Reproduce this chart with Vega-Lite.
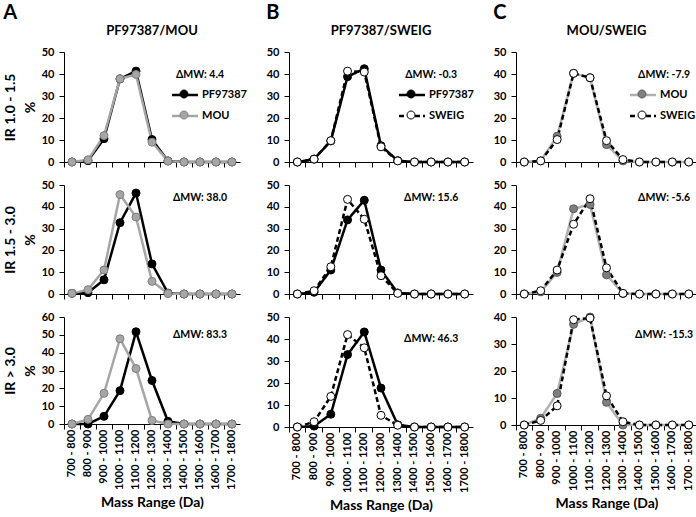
{
"$schema":"https://vega.github.io/schema/vega-lite/v6.json",
"padding":{"left":3,"top":3,"right":0,"bottom":0},
"background":"white",
"datasets":{
"d":[
{"p":"A1","s":"PF97387","r":"700 - 800","v":0},{"p":"A1","s":"PF97387","r":"800 - 900","v":0.6},{"p":"A1","s":"PF97387","r":"900 - 1000","v":10.6},{"p":"A1","s":"PF97387","r":"1000 - 1100","v":37.8},{"p":"A1","s":"PF97387","r":"1100 - 1200","v":41.3},{"p":"A1","s":"PF97387","r":"1200 - 1300","v":10.2},{"p":"A1","s":"PF97387","r":"1300 - 1400","v":0.5},{"p":"A1","s":"PF97387","r":"1400 - 1500","v":0},{"p":"A1","s":"PF97387","r":"1500 - 1600","v":0},{"p":"A1","s":"PF97387","r":"1600 - 1700","v":0},{"p":"A1","s":"PF97387","r":"1700 - 1800","v":0},
{"p":"A1","s":"MOU","r":"700 - 800","v":0},{"p":"A1","s":"MOU","r":"800 - 900","v":1.0},{"p":"A1","s":"MOU","r":"900 - 1000","v":12.0},{"p":"A1","s":"MOU","r":"1000 - 1100","v":37.8},{"p":"A1","s":"MOU","r":"1100 - 1200","v":39.8},{"p":"A1","s":"MOU","r":"1200 - 1300","v":9.0},{"p":"A1","s":"MOU","r":"1300 - 1400","v":0.4},{"p":"A1","s":"MOU","r":"1400 - 1500","v":0},{"p":"A1","s":"MOU","r":"1500 - 1600","v":0},{"p":"A1","s":"MOU","r":"1600 - 1700","v":0},{"p":"A1","s":"MOU","r":"1700 - 1800","v":0},
{"p":"A2","s":"PF97387","r":"700 - 800","v":0.3},{"p":"A2","s":"PF97387","r":"800 - 900","v":0.6},{"p":"A2","s":"PF97387","r":"900 - 1000","v":6.5},{"p":"A2","s":"PF97387","r":"1000 - 1100","v":32.7},{"p":"A2","s":"PF97387","r":"1100 - 1200","v":46.3},{"p":"A2","s":"PF97387","r":"1200 - 1300","v":13.8},{"p":"A2","s":"PF97387","r":"1300 - 1400","v":0.4},{"p":"A2","s":"PF97387","r":"1400 - 1500","v":0},{"p":"A2","s":"PF97387","r":"1500 - 1600","v":0},{"p":"A2","s":"PF97387","r":"1600 - 1700","v":0},{"p":"A2","s":"PF97387","r":"1700 - 1800","v":0},
{"p":"A2","s":"MOU","r":"700 - 800","v":0.3},{"p":"A2","s":"MOU","r":"800 - 900","v":2.0},{"p":"A2","s":"MOU","r":"900 - 1000","v":11.0},{"p":"A2","s":"MOU","r":"1000 - 1100","v":45.6},{"p":"A2","s":"MOU","r":"1100 - 1200","v":35.3},{"p":"A2","s":"MOU","r":"1200 - 1300","v":5.8},{"p":"A2","s":"MOU","r":"1300 - 1400","v":0.2},{"p":"A2","s":"MOU","r":"1400 - 1500","v":0},{"p":"A2","s":"MOU","r":"1500 - 1600","v":0},{"p":"A2","s":"MOU","r":"1600 - 1700","v":0},{"p":"A2","s":"MOU","r":"1700 - 1800","v":0},
{"p":"A3","s":"PF97387","r":"700 - 800","v":0},{"p":"A3","s":"PF97387","r":"800 - 900","v":0},{"p":"A3","s":"PF97387","r":"900 - 1000","v":4.3},{"p":"A3","s":"PF97387","r":"1000 - 1100","v":18.7},{"p":"A3","s":"PF97387","r":"1100 - 1200","v":51.7},{"p":"A3","s":"PF97387","r":"1200 - 1300","v":24.4},{"p":"A3","s":"PF97387","r":"1300 - 1400","v":1.5},{"p":"A3","s":"PF97387","r":"1400 - 1500","v":0},{"p":"A3","s":"PF97387","r":"1500 - 1600","v":0},{"p":"A3","s":"PF97387","r":"1600 - 1700","v":0},{"p":"A3","s":"PF97387","r":"1700 - 1800","v":0},
{"p":"A3","s":"MOU","r":"700 - 800","v":0},{"p":"A3","s":"MOU","r":"800 - 900","v":2.6},{"p":"A3","s":"MOU","r":"900 - 1000","v":17.2},{"p":"A3","s":"MOU","r":"1000 - 1100","v":47.8},{"p":"A3","s":"MOU","r":"1100 - 1200","v":31.1},{"p":"A3","s":"MOU","r":"1200 - 1300","v":2.0},{"p":"A3","s":"MOU","r":"1300 - 1400","v":0},{"p":"A3","s":"MOU","r":"1400 - 1500","v":0},{"p":"A3","s":"MOU","r":"1500 - 1600","v":0},{"p":"A3","s":"MOU","r":"1600 - 1700","v":0},{"p":"A3","s":"MOU","r":"1700 - 1800","v":0},
{"p":"B1","s":"PF97387","r":"700 - 800","v":0},{"p":"B1","s":"PF97387","r":"800 - 900","v":1.3},{"p":"B1","s":"PF97387","r":"900 - 1000","v":9.6},{"p":"B1","s":"PF97387","r":"1000 - 1100","v":38.8},{"p":"B1","s":"PF97387","r":"1100 - 1200","v":42.4},{"p":"B1","s":"PF97387","r":"1200 - 1300","v":7.4},{"p":"B1","s":"PF97387","r":"1300 - 1400","v":0.6},{"p":"B1","s":"PF97387","r":"1400 - 1500","v":0},{"p":"B1","s":"PF97387","r":"1500 - 1600","v":0},{"p":"B1","s":"PF97387","r":"1600 - 1700","v":0},{"p":"B1","s":"PF97387","r":"1700 - 1800","v":0},
{"p":"B1","s":"SWEIG","r":"700 - 800","v":0},{"p":"B1","s":"SWEIG","r":"800 - 900","v":1.3},{"p":"B1","s":"SWEIG","r":"900 - 1000","v":9.7},{"p":"B1","s":"SWEIG","r":"1000 - 1100","v":41.3},{"p":"B1","s":"SWEIG","r":"1100 - 1200","v":40.9},{"p":"B1","s":"SWEIG","r":"1200 - 1300","v":6.9},{"p":"B1","s":"SWEIG","r":"1300 - 1400","v":0.5},{"p":"B1","s":"SWEIG","r":"1400 - 1500","v":0},{"p":"B1","s":"SWEIG","r":"1500 - 1600","v":0},{"p":"B1","s":"SWEIG","r":"1600 - 1700","v":0},{"p":"B1","s":"SWEIG","r":"1700 - 1800","v":0},
{"p":"B2","s":"PF97387","r":"700 - 800","v":0},{"p":"B2","s":"PF97387","r":"800 - 900","v":0.8},{"p":"B2","s":"PF97387","r":"900 - 1000","v":11.0},{"p":"B2","s":"PF97387","r":"1000 - 1100","v":34.0},{"p":"B2","s":"PF97387","r":"1100 - 1200","v":43.0},{"p":"B2","s":"PF97387","r":"1200 - 1300","v":11.0},{"p":"B2","s":"PF97387","r":"1300 - 1400","v":0.5},{"p":"B2","s":"PF97387","r":"1400 - 1500","v":0},{"p":"B2","s":"PF97387","r":"1500 - 1600","v":0},{"p":"B2","s":"PF97387","r":"1600 - 1700","v":0},{"p":"B2","s":"PF97387","r":"1700 - 1800","v":0},
{"p":"B2","s":"SWEIG","r":"700 - 800","v":0},{"p":"B2","s":"SWEIG","r":"800 - 900","v":1.5},{"p":"B2","s":"SWEIG","r":"900 - 1000","v":12.5},{"p":"B2","s":"SWEIG","r":"1000 - 1100","v":43.4},{"p":"B2","s":"SWEIG","r":"1100 - 1200","v":34.3},{"p":"B2","s":"SWEIG","r":"1200 - 1300","v":8.4},{"p":"B2","s":"SWEIG","r":"1300 - 1400","v":0.3},{"p":"B2","s":"SWEIG","r":"1400 - 1500","v":0},{"p":"B2","s":"SWEIG","r":"1500 - 1600","v":0},{"p":"B2","s":"SWEIG","r":"1600 - 1700","v":0},{"p":"B2","s":"SWEIG","r":"1700 - 1800","v":0},
{"p":"B3","s":"PF97387","r":"700 - 800","v":0},{"p":"B3","s":"PF97387","r":"800 - 900","v":0.4},{"p":"B3","s":"PF97387","r":"900 - 1000","v":5.8},{"p":"B3","s":"PF97387","r":"1000 - 1100","v":32.9},{"p":"B3","s":"PF97387","r":"1100 - 1200","v":43.2},{"p":"B3","s":"PF97387","r":"1200 - 1300","v":17.7},{"p":"B3","s":"PF97387","r":"1300 - 1400","v":1.0},{"p":"B3","s":"PF97387","r":"1400 - 1500","v":0},{"p":"B3","s":"PF97387","r":"1500 - 1600","v":0},{"p":"B3","s":"PF97387","r":"1600 - 1700","v":0},{"p":"B3","s":"PF97387","r":"1700 - 1800","v":0},
{"p":"B3","s":"SWEIG","r":"700 - 800","v":0},{"p":"B3","s":"SWEIG","r":"800 - 900","v":2.4},{"p":"B3","s":"SWEIG","r":"900 - 1000","v":13.9},{"p":"B3","s":"SWEIG","r":"1000 - 1100","v":42.0},{"p":"B3","s":"SWEIG","r":"1100 - 1200","v":36.0},{"p":"B3","s":"SWEIG","r":"1200 - 1300","v":5.3},{"p":"B3","s":"SWEIG","r":"1300 - 1400","v":0.8},{"p":"B3","s":"SWEIG","r":"1400 - 1500","v":0},{"p":"B3","s":"SWEIG","r":"1500 - 1600","v":0},{"p":"B3","s":"SWEIG","r":"1600 - 1700","v":0},{"p":"B3","s":"SWEIG","r":"1700 - 1800","v":0},
{"p":"C1","s":"MOU","r":"700 - 800","v":0},{"p":"C1","s":"MOU","r":"800 - 900","v":0.5},{"p":"C1","s":"MOU","r":"900 - 1000","v":11.7},{"p":"C1","s":"MOU","r":"1000 - 1100","v":40.3},{"p":"C1","s":"MOU","r":"1100 - 1200","v":38.3},{"p":"C1","s":"MOU","r":"1200 - 1300","v":7.9},{"p":"C1","s":"MOU","r":"1300 - 1400","v":0.5},{"p":"C1","s":"MOU","r":"1400 - 1500","v":0},{"p":"C1","s":"MOU","r":"1500 - 1600","v":0},{"p":"C1","s":"MOU","r":"1600 - 1700","v":0},{"p":"C1","s":"MOU","r":"1700 - 1800","v":0},
{"p":"C1","s":"SWEIG","r":"700 - 800","v":0},{"p":"C1","s":"SWEIG","r":"800 - 900","v":0.5},{"p":"C1","s":"SWEIG","r":"900 - 1000","v":10.2},{"p":"C1","s":"SWEIG","r":"1000 - 1100","v":40.3},{"p":"C1","s":"SWEIG","r":"1100 - 1200","v":38.3},{"p":"C1","s":"SWEIG","r":"1200 - 1300","v":9.7},{"p":"C1","s":"SWEIG","r":"1300 - 1400","v":1.1},{"p":"C1","s":"SWEIG","r":"1400 - 1500","v":0},{"p":"C1","s":"SWEIG","r":"1500 - 1600","v":0},{"p":"C1","s":"SWEIG","r":"1600 - 1700","v":0},{"p":"C1","s":"SWEIG","r":"1700 - 1800","v":0},
{"p":"C2","s":"MOU","r":"700 - 800","v":0},{"p":"C2","s":"MOU","r":"800 - 900","v":1.0},{"p":"C2","s":"MOU","r":"900 - 1000","v":9.9},{"p":"C2","s":"MOU","r":"1000 - 1100","v":39.1},{"p":"C2","s":"MOU","r":"1100 - 1200","v":41.1},{"p":"C2","s":"MOU","r":"1200 - 1300","v":8.8},{"p":"C2","s":"MOU","r":"1300 - 1400","v":0.2},{"p":"C2","s":"MOU","r":"1400 - 1500","v":0},{"p":"C2","s":"MOU","r":"1500 - 1600","v":0},{"p":"C2","s":"MOU","r":"1600 - 1700","v":0},{"p":"C2","s":"MOU","r":"1700 - 1800","v":0},
{"p":"C2","s":"SWEIG","r":"700 - 800","v":0},{"p":"C2","s":"SWEIG","r":"800 - 900","v":1.5},{"p":"C2","s":"SWEIG","r":"900 - 1000","v":11.0},{"p":"C2","s":"SWEIG","r":"1000 - 1100","v":32.0},{"p":"C2","s":"SWEIG","r":"1100 - 1200","v":43.7},{"p":"C2","s":"SWEIG","r":"1200 - 1300","v":12.0},{"p":"C2","s":"SWEIG","r":"1300 - 1400","v":0.3},{"p":"C2","s":"SWEIG","r":"1400 - 1500","v":0},{"p":"C2","s":"SWEIG","r":"1500 - 1600","v":0},{"p":"C2","s":"SWEIG","r":"1600 - 1700","v":0},{"p":"C2","s":"SWEIG","r":"1700 - 1800","v":0},
{"p":"C3","s":"MOU","r":"700 - 800","v":0},{"p":"C3","s":"MOU","r":"800 - 900","v":2.5},{"p":"C3","s":"MOU","r":"900 - 1000","v":11.7},{"p":"C3","s":"MOU","r":"1000 - 1100","v":37.3},{"p":"C3","s":"MOU","r":"1100 - 1200","v":40.0},{"p":"C3","s":"MOU","r":"1200 - 1300","v":8.4},{"p":"C3","s":"MOU","r":"1300 - 1400","v":0},{"p":"C3","s":"MOU","r":"1400 - 1500","v":0},{"p":"C3","s":"MOU","r":"1500 - 1600","v":0},{"p":"C3","s":"MOU","r":"1600 - 1700","v":0},{"p":"C3","s":"MOU","r":"1700 - 1800","v":0},
{"p":"C3","s":"SWEIG","r":"700 - 800","v":0},{"p":"C3","s":"SWEIG","r":"800 - 900","v":1.7},{"p":"C3","s":"SWEIG","r":"900 - 1000","v":7.1},{"p":"C3","s":"SWEIG","r":"1000 - 1100","v":39.0},{"p":"C3","s":"SWEIG","r":"1100 - 1200","v":39.6},{"p":"C3","s":"SWEIG","r":"1200 - 1300","v":10.8},{"p":"C3","s":"SWEIG","r":"1300 - 1400","v":1.2},{"p":"C3","s":"SWEIG","r":"1400 - 1500","v":0},{"p":"C3","s":"SWEIG","r":"1500 - 1600","v":0},{"p":"C3","s":"SWEIG","r":"1600 - 1700","v":0},{"p":"C3","s":"SWEIG","r":"1700 - 1800","v":0}
],
"ann":[
{"p":"A1","r":"1500 - 1600","v":39.5,"t":"ΔMW:  4.4"},
{"p":"A2","r":"1500 - 1600","v":44,"t":"ΔMW:  38.0"},
{"p":"A3","r":"1500 - 1600","v":50,"t":"ΔMW:  83.3"},
{"p":"B1","r":"1500 - 1600","v":39.5,"t":"ΔMW: -0.3"},
{"p":"B2","r":"1500 - 1600","v":44,"t":"ΔMW: 15.6"},
{"p":"B3","r":"1500 - 1600","v":40,"t":"ΔMW:  46.3"},
{"p":"C1","r":"1500 - 1600","v":39.5,"t":"ΔMW: -7.9"},
{"p":"C2","r":"1500 - 1600","v":44,"t":"ΔMW: -5.6"},
{"p":"C3","r":"1500 - 1600","v":33.3,"t":"ΔMW: -15.3"}
]
},
"resolve":{"scale":{"color":"independent","fill":"independent","stroke":"independent","strokeDash":"independent"},"legend":{"color":"independent","fill":"independent","stroke":"independent","strokeDash":"independent"}},
"spacing":19,
"hconcat":[
{"title":{"text":"A","anchor":"start","fontSize":20,"offset":2},"spacing":11,
"resolve":{"scale":{"color":"independent","fill":"independent","stroke":"independent","strokeDash":"independent"},"legend":{"color":"independent","fill":"independent","stroke":"independent","strokeDash":"independent"}},
"vconcat":[
{"width":176,"height":110,"title":{"text":"PF97387/MOU","offset":8},
"layer":[
{"data":{"name":"d"},"transform":[{"filter":"datum.p=='A1'"}],"mark":{"type":"line","strokeWidth":2.5},
"encoding":{"x":{"field":"r","type":"ordinal","scale":{"type":"band","domain":["700 - 800","800 - 900","900 - 1000","1000 - 1100","1100 - 1200","1200 - 1300","1300 - 1400","1400 - 1500","1500 - 1600","1600 - 1700","1700 - 1800"],"paddingInner":0,"paddingOuter":0},"axis":{"labels":false,"title":null,"bandPosition":0}},
"y":{"field":"v","type":"quantitative","scale":{"domain":[0,50],"nice":false},"axis":{"values":[0,10,20,30,40,50],"title":["IR 1.0 - 1.5","%"]}},
"color":{"field":"s","type":"nominal","scale":{"domain":["PF97387","MOU"],"range":["#000000","#a6a6a6"]},"legend":{"orient":"none","legendX":113,"legendY":35,"title":null,"padding":0,"symbolType":"M-2,0L2,0","symbolSize":169,"symbolStrokeWidth":2.5,"labelFontSize":11,"labelFontWeight":"bold","labelFont":"Lato","labelColor":"#000","labelOffset":9,"rowPadding":8}},
"strokeDash":{"field":"s","type":"nominal","scale":{"domain":["PF97387","MOU"],"range":[[1,0],[1,0]]},"legend":{"orient":"none","legendX":113,"legendY":35,"title":null,"padding":0,"symbolType":"M-2,0L2,0","symbolSize":169,"symbolStrokeWidth":2.5,"labelFontSize":11,"labelFontWeight":"bold","labelFont":"Lato","labelColor":"#000","labelOffset":9,"rowPadding":8}}}},
{"data":{"name":"d"},"transform":[{"filter":"datum.p=='A1'"}],"mark":{"type":"point","shape":"circle","size":64,"strokeWidth":1,"opacity":1,"filled":true},
"encoding":{"x":{"field":"r","type":"ordinal","axis":null},"y":{"field":"v","type":"quantitative","axis":null},
"fill":{"field":"s","type":"nominal","sort":"descending","scale":{"range":["#000000","#a6a6a6"]},"legend":{"orient":"none","legendX":113,"legendY":35,"title":null,"padding":0,"symbolType":"M0.615,0A0.615,0.615,0,1,1,-0.615,0A0.615,0.615,0,1,1,0.615,0Z","symbolSize":169,"symbolStrokeWidth":1,"labelFontSize":11,"labelExpr":"''","labelOffset":9,"rowPadding":8}},
"stroke":{"field":"s","type":"nominal","sort":"descending","scale":{"range":["#000000","#7f7f7f"]},"legend":{"orient":"none","legendX":113,"legendY":35,"title":null,"padding":0,"symbolType":"M0.615,0A0.615,0.615,0,1,1,-0.615,0A0.615,0.615,0,1,1,0.615,0Z","symbolSize":169,"symbolStrokeWidth":1,"labelFontSize":11,"labelExpr":"''","labelOffset":9,"rowPadding":8}}}},
{"data":{"name":"ann"},"transform":[{"filter":"datum.p=='A1'"}],"mark":{"type":"text","fontSize":10.5,"fontWeight":"bold","font":"Lato"},
"encoding":{"x":{"field":"r","type":"ordinal","axis":null},"y":{"field":"v","type":"quantitative","axis":null},"text":{"field":"t"}}}
],
"resolve":{"axis":{"x":"independent","y":"independent"}}},
{"width":176,"height":109,
"layer":[
{"data":{"name":"d"},"transform":[{"filter":"datum.p=='A2'"}],"mark":{"type":"line","strokeWidth":2.5},
"encoding":{"x":{"field":"r","type":"ordinal","scale":{"type":"band","domain":["700 - 800","800 - 900","900 - 1000","1000 - 1100","1100 - 1200","1200 - 1300","1300 - 1400","1400 - 1500","1500 - 1600","1600 - 1700","1700 - 1800"],"paddingInner":0,"paddingOuter":0},"axis":{"labels":false,"title":null,"bandPosition":0}},
"y":{"field":"v","type":"quantitative","scale":{"domain":[0,50],"nice":false},"axis":{"values":[0,10,20,30,40,50],"title":["IR 1.5 - 3.0","%"]}},
"color":{"field":"s","type":"nominal","scale":{"domain":["PF97387","MOU"],"range":["#000000","#a6a6a6"]},"legend":null}}},
{"data":{"name":"d"},"transform":[{"filter":"datum.p=='A2'"}],"mark":{"type":"point","shape":"circle","size":64,"strokeWidth":1,"opacity":1,"filled":true},
"encoding":{"x":{"field":"r","type":"ordinal","axis":null},"y":{"field":"v","type":"quantitative","axis":null},
"fill":{"field":"s","type":"nominal","sort":"descending","scale":{"range":["#000000","#a6a6a6"]},"legend":null},
"stroke":{"field":"s","type":"nominal","sort":"descending","scale":{"range":["#000000","#7f7f7f"]},"legend":null}}},
{"data":{"name":"ann"},"transform":[{"filter":"datum.p=='A2'"}],"mark":{"type":"text","fontSize":10.5,"fontWeight":"bold","font":"Lato"},
"encoding":{"x":{"field":"r","type":"ordinal","axis":null},"y":{"field":"v","type":"quantitative","axis":null},"text":{"field":"t"}}}
],
"resolve":{"axis":{"x":"independent","y":"independent"}}},
{"width":176,"height":107,
"layer":[
{"data":{"name":"d"},"transform":[{"filter":"datum.p=='A3'"}],"mark":{"type":"line","strokeWidth":2.5},
"encoding":{"x":{"field":"r","type":"ordinal","scale":{"type":"band","domain":["700 - 800","800 - 900","900 - 1000","1000 - 1100","1100 - 1200","1200 - 1300","1300 - 1400","1400 - 1500","1500 - 1600","1600 - 1700","1700 - 1800"],"paddingInner":0,"paddingOuter":0},"axis":{"labels":false,"title":null,"bandPosition":0}},
"y":{"field":"v","type":"quantitative","scale":{"domain":[0,60],"nice":false},"axis":{"values":[0,10,20,30,40,50,60],"title":["IR > 3.0","%"]}},
"color":{"field":"s","type":"nominal","scale":{"domain":["PF97387","MOU"],"range":["#000000","#a6a6a6"]},"legend":null}}},
{"data":{"name":"d"},"transform":[{"filter":"datum.p=='A3'"}],"mark":{"type":"point","shape":"circle","size":64,"strokeWidth":1,"opacity":1,"filled":true},
"encoding":{"x":{"field":"r","type":"ordinal","axis":{"orient":"bottom","domain":false,"ticks":false,"tickSize":0,"labelAngle":-90,"labelAlign":"right","labelBaseline":"middle","labelPadding":5,"title":"Mass Range (Da)","titlePadding":6}},"y":{"field":"v","type":"quantitative","axis":null},
"fill":{"field":"s","type":"nominal","sort":"descending","scale":{"range":["#000000","#a6a6a6"]},"legend":null},
"stroke":{"field":"s","type":"nominal","sort":"descending","scale":{"range":["#000000","#7f7f7f"]},"legend":null}}},
{"data":{"name":"ann"},"transform":[{"filter":"datum.p=='A3'"}],"mark":{"type":"text","fontSize":10.5,"fontWeight":"bold","font":"Lato"},
"encoding":{"x":{"field":"r","type":"ordinal","axis":null},"y":{"field":"v","type":"quantitative","axis":null},"text":{"field":"t"}}}
],
"resolve":{"axis":{"x":"independent","y":"independent"}}}
]},
{"title":{"text":"B","anchor":"start","fontSize":20,"offset":2},"spacing":11,
"resolve":{"scale":{"color":"independent","fill":"independent","stroke":"independent","strokeDash":"independent"},"legend":{"color":"independent","fill":"independent","stroke":"independent","strokeDash":"independent"}},
"vconcat":[
{"width":184,"height":110,"title":{"text":"PF97387/SWEIG","offset":8},
"layer":[
{"data":{"name":"d"},"transform":[{"filter":"datum.p=='B1'"}],"mark":{"type":"line","strokeWidth":2.5},
"encoding":{"x":{"field":"r","type":"ordinal","scale":{"type":"band","domain":["700 - 800","800 - 900","900 - 1000","1000 - 1100","1100 - 1200","1200 - 1300","1300 - 1400","1400 - 1500","1500 - 1600","1600 - 1700","1700 - 1800"],"paddingInner":0,"paddingOuter":0},"axis":{"labels":false,"title":null,"bandPosition":0}},
"y":{"field":"v","type":"quantitative","scale":{"domain":[0,50],"nice":false},"axis":{"values":[0,10,20,30,40,50],"title":null}},
"color":{"field":"s","type":"nominal","scale":{"domain":["PF97387","SWEIG"],"range":["#000000","#000000"]},"legend":{"orient":"none","legendX":115,"legendY":35,"title":null,"padding":0,"symbolType":"M-2,0L2,0","symbolSize":169,"symbolStrokeWidth":2.5,"labelFontSize":11,"labelFontWeight":"bold","labelFont":"Lato","labelColor":"#000","labelOffset":9,"rowPadding":8}},
"strokeDash":{"field":"s","type":"nominal","scale":{"domain":["PF97387","SWEIG"],"range":[[1,0],[5,3]]},"legend":{"orient":"none","legendX":115,"legendY":35,"title":null,"padding":0,"symbolType":"M-2,0L2,0","symbolSize":169,"symbolStrokeWidth":2.5,"labelFontSize":11,"labelFontWeight":"bold","labelFont":"Lato","labelColor":"#000","labelOffset":9,"rowPadding":8}}}},
{"data":{"name":"d"},"transform":[{"filter":"datum.p=='B1'"}],"mark":{"type":"point","shape":"circle","size":64,"strokeWidth":1,"opacity":1,"filled":true},
"encoding":{"x":{"field":"r","type":"ordinal","axis":null},"y":{"field":"v","type":"quantitative","axis":null},
"fill":{"field":"s","type":"nominal","sort":"ascending","scale":{"range":["#000000","#ffffff"]},"legend":{"orient":"none","legendX":115,"legendY":35,"title":null,"padding":0,"symbolType":"M0.615,0A0.615,0.615,0,1,1,-0.615,0A0.615,0.615,0,1,1,0.615,0Z","symbolSize":169,"symbolStrokeWidth":1,"labelFontSize":11,"labelExpr":"''","labelOffset":9,"rowPadding":8}},
"stroke":{"field":"s","type":"nominal","sort":"ascending","scale":{"range":["#000000","#000000"]},"legend":{"orient":"none","legendX":115,"legendY":35,"title":null,"padding":0,"symbolType":"M0.615,0A0.615,0.615,0,1,1,-0.615,0A0.615,0.615,0,1,1,0.615,0Z","symbolSize":169,"symbolStrokeWidth":1,"labelFontSize":11,"labelExpr":"''","labelOffset":9,"rowPadding":8}}}},
{"data":{"name":"ann"},"transform":[{"filter":"datum.p=='B1'"}],"mark":{"type":"text","fontSize":10.5,"fontWeight":"bold","font":"Lato"},
"encoding":{"x":{"field":"r","type":"ordinal","axis":null},"y":{"field":"v","type":"quantitative","axis":null},"text":{"field":"t"}}}
],
"resolve":{"axis":{"x":"independent","y":"independent"}}},
{"width":184,"height":109,
"layer":[
{"data":{"name":"d"},"transform":[{"filter":"datum.p=='B2'"}],"mark":{"type":"line","strokeWidth":2.5},
"encoding":{"x":{"field":"r","type":"ordinal","scale":{"type":"band","domain":["700 - 800","800 - 900","900 - 1000","1000 - 1100","1100 - 1200","1200 - 1300","1300 - 1400","1400 - 1500","1500 - 1600","1600 - 1700","1700 - 1800"],"paddingInner":0,"paddingOuter":0},"axis":{"labels":false,"title":null,"bandPosition":0}},
"y":{"field":"v","type":"quantitative","scale":{"domain":[0,50],"nice":false},"axis":{"values":[0,10,20,30,40,50],"title":null}},
"color":{"field":"s","type":"nominal","scale":{"domain":["PF97387","SWEIG"],"range":["#000000","#000000"]},"legend":null},
"strokeDash":{"field":"s","type":"nominal","scale":{"domain":["PF97387","SWEIG"],"range":[[1,0],[5,3]]},"legend":null}}},
{"data":{"name":"d"},"transform":[{"filter":"datum.p=='B2'"}],"mark":{"type":"point","shape":"circle","size":64,"strokeWidth":1,"opacity":1,"filled":true},
"encoding":{"x":{"field":"r","type":"ordinal","axis":null},"y":{"field":"v","type":"quantitative","axis":null},
"fill":{"field":"s","type":"nominal","sort":"ascending","scale":{"range":["#000000","#ffffff"]},"legend":null},
"stroke":{"field":"s","type":"nominal","sort":"ascending","scale":{"range":["#000000","#000000"]},"legend":null}}},
{"data":{"name":"ann"},"transform":[{"filter":"datum.p=='B2'"}],"mark":{"type":"text","fontSize":10.5,"fontWeight":"bold","font":"Lato"},
"encoding":{"x":{"field":"r","type":"ordinal","axis":null},"y":{"field":"v","type":"quantitative","axis":null},"text":{"field":"t"}}}
],
"resolve":{"axis":{"x":"independent","y":"independent"}}},
{"width":184,"height":110,
"layer":[
{"data":{"name":"d"},"transform":[{"filter":"datum.p=='B3'"}],"mark":{"type":"line","strokeWidth":2.5},
"encoding":{"x":{"field":"r","type":"ordinal","scale":{"type":"band","domain":["700 - 800","800 - 900","900 - 1000","1000 - 1100","1100 - 1200","1200 - 1300","1300 - 1400","1400 - 1500","1500 - 1600","1600 - 1700","1700 - 1800"],"paddingInner":0,"paddingOuter":0},"axis":{"labels":false,"title":null,"bandPosition":0}},
"y":{"field":"v","type":"quantitative","scale":{"domain":[0,50],"nice":false},"axis":{"values":[0,10,20,30,40,50],"title":null}},
"color":{"field":"s","type":"nominal","scale":{"domain":["PF97387","SWEIG"],"range":["#000000","#000000"]},"legend":null},
"strokeDash":{"field":"s","type":"nominal","scale":{"domain":["PF97387","SWEIG"],"range":[[1,0],[5,3]]},"legend":null}}},
{"data":{"name":"d"},"transform":[{"filter":"datum.p=='B3'"}],"mark":{"type":"point","shape":"circle","size":64,"strokeWidth":1,"opacity":1,"filled":true},
"encoding":{"x":{"field":"r","type":"ordinal","axis":{"orient":"bottom","domain":false,"ticks":false,"tickSize":0,"labelAngle":-90,"labelAlign":"right","labelBaseline":"middle","labelPadding":5,"title":"Mass Range (Da)","titlePadding":6}},"y":{"field":"v","type":"quantitative","axis":null},
"fill":{"field":"s","type":"nominal","sort":"ascending","scale":{"range":["#000000","#ffffff"]},"legend":null},
"stroke":{"field":"s","type":"nominal","sort":"ascending","scale":{"range":["#000000","#000000"]},"legend":null}}},
{"data":{"name":"ann"},"transform":[{"filter":"datum.p=='B3'"}],"mark":{"type":"text","fontSize":10.5,"fontWeight":"bold","font":"Lato"},
"encoding":{"x":{"field":"r","type":"ordinal","axis":null},"y":{"field":"v","type":"quantitative","axis":null},"text":{"field":"t"}}}
],
"resolve":{"axis":{"x":"independent","y":"independent"}}}
]},
{"title":{"text":"C","anchor":"start","fontSize":20,"offset":2},"spacing":11,
"resolve":{"scale":{"color":"independent","fill":"independent","stroke":"independent","strokeDash":"independent"},"legend":{"color":"independent","fill":"independent","stroke":"independent","strokeDash":"independent"}},
"vconcat":[
{"width":181,"height":110,"title":{"text":"MOU/SWEIG","offset":8},
"layer":[
{"data":{"name":"d"},"transform":[{"filter":"datum.p=='C1'"}],"mark":{"type":"line","strokeWidth":2.5},
"encoding":{"x":{"field":"r","type":"ordinal","scale":{"type":"band","domain":["700 - 800","800 - 900","900 - 1000","1000 - 1100","1100 - 1200","1200 - 1300","1300 - 1400","1400 - 1500","1500 - 1600","1600 - 1700","1700 - 1800"],"paddingInner":0,"paddingOuter":0},"axis":{"labels":false,"title":null,"bandPosition":0}},
"y":{"field":"v","type":"quantitative","scale":{"domain":[0,50],"nice":false},"axis":{"values":[0,10,20,30,40,50],"title":null}},
"color":{"field":"s","type":"nominal","scale":{"domain":["MOU","SWEIG"],"range":["#b0b0b0","#000000"]},"legend":{"orient":"none","legendX":119,"legendY":35,"title":null,"padding":0,"symbolType":"M-2,0L2,0","symbolSize":169,"symbolStrokeWidth":2.5,"labelFontSize":11,"labelFontWeight":"bold","labelFont":"Lato","labelColor":"#000","labelOffset":9,"rowPadding":8}},
"strokeDash":{"field":"s","type":"nominal","scale":{"domain":["MOU","SWEIG"],"range":[[1,0],[5,3]]},"legend":{"orient":"none","legendX":119,"legendY":35,"title":null,"padding":0,"symbolType":"M-2,0L2,0","symbolSize":169,"symbolStrokeWidth":2.5,"labelFontSize":11,"labelFontWeight":"bold","labelFont":"Lato","labelColor":"#000","labelOffset":9,"rowPadding":8}}}},
{"data":{"name":"d"},"transform":[{"filter":"datum.p=='C1'"}],"mark":{"type":"point","shape":"circle","size":64,"strokeWidth":1,"opacity":1,"filled":true},
"encoding":{"x":{"field":"r","type":"ordinal","axis":null},"y":{"field":"v","type":"quantitative","axis":null},
"fill":{"field":"s","type":"nominal","sort":"ascending","scale":{"range":["#7f7f7f","#ffffff"]},"legend":{"orient":"none","legendX":119,"legendY":35,"title":null,"padding":0,"symbolType":"M0.615,0A0.615,0.615,0,1,1,-0.615,0A0.615,0.615,0,1,1,0.615,0Z","symbolSize":169,"symbolStrokeWidth":1,"labelFontSize":11,"labelExpr":"''","labelOffset":9,"rowPadding":8}},
"stroke":{"field":"s","type":"nominal","sort":"ascending","scale":{"range":["#595959","#000000"]},"legend":{"orient":"none","legendX":119,"legendY":35,"title":null,"padding":0,"symbolType":"M0.615,0A0.615,0.615,0,1,1,-0.615,0A0.615,0.615,0,1,1,0.615,0Z","symbolSize":169,"symbolStrokeWidth":1,"labelFontSize":11,"labelExpr":"''","labelOffset":9,"rowPadding":8}}}},
{"data":{"name":"ann"},"transform":[{"filter":"datum.p=='C1'"}],"mark":{"type":"text","fontSize":10.5,"fontWeight":"bold","font":"Lato"},
"encoding":{"x":{"field":"r","type":"ordinal","bandPosition":1,"axis":null},"y":{"field":"v","type":"quantitative","axis":null},"text":{"field":"t"}}}
],
"resolve":{"axis":{"x":"independent","y":"independent"}}},
{"width":181,"height":109,
"layer":[
{"data":{"name":"d"},"transform":[{"filter":"datum.p=='C2'"}],"mark":{"type":"line","strokeWidth":2.5},
"encoding":{"x":{"field":"r","type":"ordinal","scale":{"type":"band","domain":["700 - 800","800 - 900","900 - 1000","1000 - 1100","1100 - 1200","1200 - 1300","1300 - 1400","1400 - 1500","1500 - 1600","1600 - 1700","1700 - 1800"],"paddingInner":0,"paddingOuter":0},"axis":{"labels":false,"title":null,"bandPosition":0}},
"y":{"field":"v","type":"quantitative","scale":{"domain":[0,50],"nice":false},"axis":{"values":[0,10,20,30,40,50],"title":null}},
"color":{"field":"s","type":"nominal","scale":{"domain":["MOU","SWEIG"],"range":["#b0b0b0","#000000"]},"legend":null},
"strokeDash":{"field":"s","type":"nominal","scale":{"domain":["MOU","SWEIG"],"range":[[1,0],[5,3]]},"legend":null}}},
{"data":{"name":"d"},"transform":[{"filter":"datum.p=='C2'"}],"mark":{"type":"point","shape":"circle","size":64,"strokeWidth":1,"opacity":1,"filled":true},
"encoding":{"x":{"field":"r","type":"ordinal","axis":null},"y":{"field":"v","type":"quantitative","axis":null},
"fill":{"field":"s","type":"nominal","sort":"ascending","scale":{"range":["#7f7f7f","#ffffff"]},"legend":null},
"stroke":{"field":"s","type":"nominal","sort":"ascending","scale":{"range":["#595959","#000000"]},"legend":null}}},
{"data":{"name":"ann"},"transform":[{"filter":"datum.p=='C2'"}],"mark":{"type":"text","fontSize":10.5,"fontWeight":"bold","font":"Lato"},
"encoding":{"x":{"field":"r","type":"ordinal","bandPosition":1,"axis":null},"y":{"field":"v","type":"quantitative","axis":null},"text":{"field":"t"}}}
],
"resolve":{"axis":{"x":"independent","y":"independent"}}},
{"width":181,"height":108,
"layer":[
{"data":{"name":"d"},"transform":[{"filter":"datum.p=='C3'"}],"mark":{"type":"line","strokeWidth":2.5},
"encoding":{"x":{"field":"r","type":"ordinal","scale":{"type":"band","domain":["700 - 800","800 - 900","900 - 1000","1000 - 1100","1100 - 1200","1200 - 1300","1300 - 1400","1400 - 1500","1500 - 1600","1600 - 1700","1700 - 1800"],"paddingInner":0,"paddingOuter":0},"axis":{"labels":false,"title":null,"bandPosition":0}},
"y":{"field":"v","type":"quantitative","scale":{"domain":[0,40],"nice":false},"axis":{"values":[0,10,20,30,40],"title":null}},
"color":{"field":"s","type":"nominal","scale":{"domain":["MOU","SWEIG"],"range":["#b0b0b0","#000000"]},"legend":null},
"strokeDash":{"field":"s","type":"nominal","scale":{"domain":["MOU","SWEIG"],"range":[[1,0],[5,3]]},"legend":null}}},
{"data":{"name":"d"},"transform":[{"filter":"datum.p=='C3'"}],"mark":{"type":"point","shape":"circle","size":64,"strokeWidth":1,"opacity":1,"filled":true},
"encoding":{"x":{"field":"r","type":"ordinal","axis":{"orient":"bottom","domain":false,"ticks":false,"tickSize":0,"labelAngle":-90,"labelAlign":"right","labelBaseline":"middle","labelPadding":5,"title":"Mass Range (Da)","titlePadding":6}},"y":{"field":"v","type":"quantitative","axis":null},
"fill":{"field":"s","type":"nominal","sort":"ascending","scale":{"range":["#7f7f7f","#ffffff"]},"legend":null},
"stroke":{"field":"s","type":"nominal","sort":"ascending","scale":{"range":["#595959","#000000"]},"legend":null}}},
{"data":{"name":"ann"},"transform":[{"filter":"datum.p=='C3'"}],"mark":{"type":"text","fontSize":10.5,"fontWeight":"bold","font":"Lato"},
"encoding":{"x":{"field":"r","type":"ordinal","bandPosition":1,"axis":null},"y":{"field":"v","type":"quantitative","axis":null},"text":{"field":"t"}}}
],
"resolve":{"axis":{"x":"independent","y":"independent"}}}
]}
],
"config":{
"font":"Lato",
"view":{"stroke":null},
"axis":{"domainColor":"#000000","tickColor":"#000000","labelColor":"#000000","labelFont":"Lato","labelFontWeight":"bold","labelFontSize":11,"grid":false,"tickSize":5,"titleFont":"Lato","titleFontWeight":"bold","titleFontSize":14,"titleColor":"#000000","domainWidth":1},
"axisY":{"labelPadding":5,"titlePadding":4,"titleLineHeight":20},
"title":{"font":"Lato","fontWeight":"bold","fontSize":13,"color":"#000000"}
}
}
